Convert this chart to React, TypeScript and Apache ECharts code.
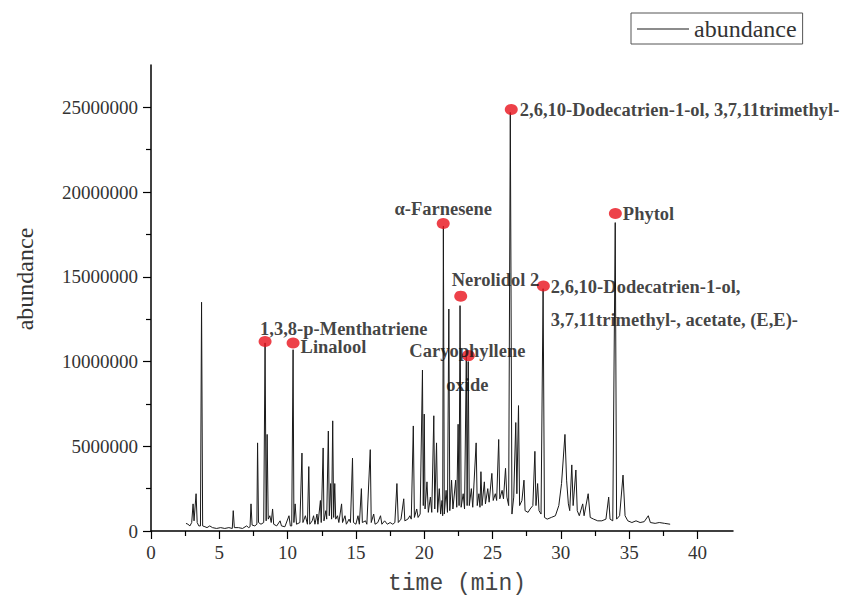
import React, { useEffect, useRef } from 'react';
import * as echarts from 'echarts';

// GC-MS chromatogram: [retention time (min), abundance]
const chromatogram: [number, number][] = [
  [2.56, 450000], [2.7, 400000], [2.85, 300000], [2.98, 500000], [3.08, 1600000], [3.15, 600000],
  [3.3, 2200000], [3.38, 500000], [3.5, 300000], [3.62, 300000], [3.7, 13500000], [3.78, 300000],
  [3.95, 250000], [4.1, 200000], [4.3, 300000], [4.5, 200000], [4.8, 150000], [5.1, 200000],
  [5.4, 150000], [5.7, 200000], [5.95, 150000], [6.02, 1200000], [6.1, 200000], [6.4, 200000],
  [6.7, 150000], [7.0, 300000], [7.15, 200000], [7.25, 250000], [7.32, 1600000], [7.4, 350000],
  [7.6, 300000], [7.75, 400000], [7.8, 5200000], [7.87, 500000], [8.05, 400000], [8.25, 500000],
  [8.35, 11100000], [8.43, 600000], [8.5, 5700000], [8.58, 700000], [8.7, 900000], [8.8, 500000],
  [8.9, 1300000], [8.98, 400000], [9.2, 300000], [9.45, 600000], [9.55, 300000], [9.8, 250000],
  [10.1, 900000], [10.2, 300000], [10.3, 300000], [10.4, 10700000], [10.46, 500000], [10.55, 1600000],
  [10.65, 400000], [10.9, 500000], [11.05, 4600000], [11.12, 500000], [11.3, 900000], [11.45, 400000],
  [11.55, 3800000], [11.62, 400000], [11.8, 600000], [11.9, 900000], [12.0, 400000], [12.15, 1000000],
  [12.22, 400000], [12.4, 1800000], [12.46, 500000], [12.6, 4900000], [12.66, 600000], [12.8, 1200000],
  [12.86, 700000], [12.98, 5900000], [13.05, 900000], [13.15, 2800000], [13.22, 700000], [13.3, 6500000],
  [13.37, 800000], [13.45, 2800000], [13.52, 700000], [13.65, 900000], [13.75, 500000], [13.95, 1600000],
  [14.02, 500000], [14.2, 900000], [14.3, 400000], [14.5, 700000], [14.6, 500000], [14.75, 4300000],
  [14.82, 500000], [15.0, 400000], [15.15, 900000], [15.25, 400000], [15.4, 2500000], [15.47, 500000],
  [15.7, 600000], [15.8, 400000], [16.05, 4800000], [16.12, 500000], [16.3, 1000000], [16.4, 400000],
  [16.6, 500000], [16.8, 900000], [16.9, 400000], [17.1, 600000], [17.3, 400000], [17.5, 500000],
  [17.7, 400000], [17.85, 500000], [18.0, 2800000], [18.1, 500000], [18.3, 700000], [18.5, 1900000],
  [18.58, 600000], [18.8, 700000], [18.95, 900000], [19.05, 700000], [19.2, 6200000], [19.28, 800000],
  [19.45, 1300000], [19.55, 800000], [19.7, 1000000], [19.87, 9500000], [19.93, 1500000], [20.0, 6900000],
  [20.06, 1300000], [20.2, 2900000], [20.3, 1100000], [20.45, 2000000], [20.55, 1100000], [20.7, 6800000],
  [20.77, 1300000], [20.9, 5200000], [20.98, 1100000], [21.1, 2500000], [21.2, 1000000], [21.3, 1800000],
  [21.35, 900000], [21.4, 18000000], [21.47, 1000000], [21.6, 2400000], [21.7, 1100000], [21.8, 13100000],
  [21.87, 1200000], [22.0, 3000000], [22.1, 1300000], [22.3, 3000000], [22.38, 1400000], [22.48, 6300000],
  [22.55, 1500000], [22.62, 13300000], [22.7, 1400000], [22.85, 2200000], [22.95, 1300000], [23.08, 10300000],
  [23.14, 1500000], [23.22, 10000000], [23.3, 1500000], [23.45, 2500000], [23.55, 1400000], [23.8, 5200000],
  [23.88, 1500000], [24.0, 2200000], [24.08, 1400000], [24.15, 3500000], [24.23, 1500000], [24.4, 2900000],
  [24.48, 1600000], [24.65, 2500000], [24.75, 1700000], [24.95, 3400000], [25.05, 1800000], [25.2, 2200000],
  [25.3, 1800000], [25.45, 5400000], [25.53, 1900000], [25.7, 2400000], [25.8, 1900000], [25.95, 3700000],
  [26.05, 2000000], [26.18, 1500000], [26.3, 24700000], [26.42, 1000000], [26.55, 2000000], [26.7, 6400000],
  [26.78, 2200000], [26.9, 7400000], [26.98, 1500000], [27.15, 1800000], [27.3, 3000000], [27.38, 1200000],
  [27.6, 1100000], [27.75, 1300000], [27.95, 1500000], [28.1, 4700000], [28.18, 1500000], [28.3, 2800000],
  [28.4, 1200000], [28.55, 1000000], [28.7, 14300000], [28.8, 800000], [29.0, 700000], [29.3, 800000],
  [29.6, 900000], [29.85, 1500000], [30.05, 2800000], [30.3, 5700000], [30.42, 3000000], [30.55, 1600000],
  [30.65, 1200000], [30.8, 3900000], [30.9, 1500000], [31.1, 3600000], [31.2, 1200000], [31.35, 900000],
  [31.6, 1600000], [31.7, 900000], [32.0, 2200000], [32.15, 800000], [32.4, 700000], [32.7, 600000],
  [33.0, 600000], [33.3, 700000], [33.5, 2000000], [33.6, 700000], [33.8, 600000], [33.98, 18200000],
  [34.08, 700000], [34.3, 900000], [34.55, 3300000], [34.7, 900000], [34.9, 600000], [35.2, 500000],
  [35.5, 600000], [35.8, 500000], [36.1, 550000], [36.4, 900000], [36.55, 500000], [36.9, 450000],
  [37.2, 500000], [37.6, 450000], [38.0, 400000],
];

const peakNames = [
  '1,3,8-p-Menthatriene',
  'Linalool',
  'α-Farnesene',
  'Nerolidol 2',
  'Caryophyllene\noxide',
  '2,6,10-Dodecatrien-1-ol, 3,7,11trimethyl-',
  '2,6,10-Dodecatrien-1-ol,\n3,7,11trimethyl-, acetate, (E,E)-',
  'Phytol',
];
const peakTimes = [8.35, 10.4, 21.39, 22.67, 23.23, 26.37, 28.72, 33.99];
const peakAbundance = [11180000, 11100000, 18150000, 13860000, 10350000, 24880000, 14460000, 18740000];

const xMajorTicks = [0, 5, 10, 15, 20, 25, 30, 35, 40];
const xMinorTicks = [2.5, 7.5, 12.5, 17.5, 22.5, 27.5, 32.5, 37.5];
const yMajorTicks = [0, 5000000, 10000000, 15000000, 20000000, 25000000];
const yMinorTicks = [2500000, 7500000, 12500000, 17500000, 22500000];

// label placement for each annotated peak (style only)
const labelPlacement: any[] = [
  { position: 'right', offset: [-12.5, -13], lineHeight: 17 },
  { position: 'right', offset: [0, 4], lineHeight: 17 },
  { position: 'top', offset: [0, 2], lineHeight: 20 },
  { position: 'right', offset: [-16.5, -16.5], lineHeight: 20 },
  { position: 'inside', offset: [-1, 12], align: 'center', lineHeight: 34 },
  { position: 'right', offset: [1, 1], lineHeight: 20 },
  { position: 'right', offset: [0, 17.5], lineHeight: 33 },
  { position: 'right', offset: [0, 1], lineHeight: 20 },
];

const SERIF = 'Liberation Serif';

export default function App() {
  const ref = useRef<HTMLDivElement>(null);
  useEffect(() => {
    if (!ref.current) return;
    const chart = echarts.init(ref.current, null, { renderer: 'svg' });
    const axisCommon = {
      type: 'value',
      splitLine: { show: false },
    };
    const peakData = peakNames.map((name, i) => ({
      name,
      value: [peakTimes[i], peakAbundance[i]],
      label: {
        show: true,
        formatter: name,
        distance: 1,
        fontFamily: SERIF,
        fontWeight: 'bold',
        fontSize: 18.5,
        color: '#111',
        ...labelPlacement[i],
      },
    }));
    chart.setOption({
      animation: false,
      backgroundColor: '#fff',
      textStyle: { fontFamily: SERIF },
      grid: { left: 151, right: 117, top: 65, bottom: 65, containLabel: false },
      legend: {
        data: [{ name: 'abundance', icon: 'path://M0,0H50V1H0Z' }],
        left: 631,
        top: 13,
        padding: [4, 6, 3, 6],
        borderColor: '#555',
        borderWidth: 1,
        borderRadius: 0,
        itemWidth: 52,
        itemHeight: 14,
        itemStyle: { color: '#1a1a1a' },
        textStyle: { fontFamily: SERIF, fontSize: 24, color: '#333' },
      },
      xAxis: [
        {
          ...axisCommon,
          min: 0,
          max: 42.6,
          name: 'time (min)',
          nameLocation: 'middle',
          nameGap: 41,
          nameTextStyle: { fontFamily: 'Liberation Mono', fontSize: 23, color: '#444', padding: [0, 0, 0, 30] },
          axisLine: { show: true, onZero: false, lineStyle: { color: '#000', width: 1.5 } },
          axisTick: { show: true, inside: false, length: 8, customValues: xMajorTicks, lineStyle: { color: '#000', width: 1.2 } },
          axisLabel: { customValues: xMajorTicks, margin: 12, fontFamily: SERIF, fontSize: 19, color: '#333', formatter: (v: number) => String(v) },
        },
        {
          ...axisCommon,
          min: 0,
          max: 42.6,
          position: 'bottom',
          axisLine: { show: false },
          axisTick: { show: true, inside: false, length: 5, customValues: xMinorTicks, lineStyle: { color: '#000', width: 1.2 } },
          axisLabel: { show: false },
        },
      ],
      yAxis: [
        {
          ...axisCommon,
          min: 0,
          max: 27500000,
          name: 'abundance',
          nameLocation: 'middle',
          nameRotate: 90,
          nameGap: 114,
          nameTextStyle: { fontFamily: SERIF, fontSize: 24, color: '#333', padding: [0, 0, 0, 38] },
          axisLine: { show: true, onZero: false, lineStyle: { color: '#000', width: 1.5 } },
          axisTick: { show: true, inside: false, length: 8, customValues: yMajorTicks, lineStyle: { color: '#000', width: 1.2 } },
          axisLabel: { customValues: yMajorTicks, margin: 13, fontFamily: SERIF, fontSize: 19, color: '#333', formatter: (v: number) => String(v) },
        },
        {
          ...axisCommon,
          min: 0,
          max: 27500000,
          position: 'left',
          axisLine: { show: false },
          axisTick: { show: true, inside: false, length: 5, customValues: yMinorTicks, lineStyle: { color: '#000', width: 1.2 } },
          axisLabel: { show: false },
        },
      ],
      series: [
        {
          name: 'abundance',
          type: 'line',
          data: chromatogram,
          symbol: 'none',
          lineStyle: { color: '#1a1a1a', width: 1 },
          itemStyle: { color: '#1a1a1a' },
          z: 2,
        },
        {
          name: 'peaks',
          type: 'scatter',
          data: peakData,
          symbol: 'circle',
          symbolSize: [13, 11],
          itemStyle: { color: '#e8121c' },
          z: 3,
        },
      ],
    });
    return () => chart.dispose();
  }, []);
  return <div ref={ref} style={{ position: 'absolute', left: 0, top: 0, width: 850, height: 600 }} />;
}
